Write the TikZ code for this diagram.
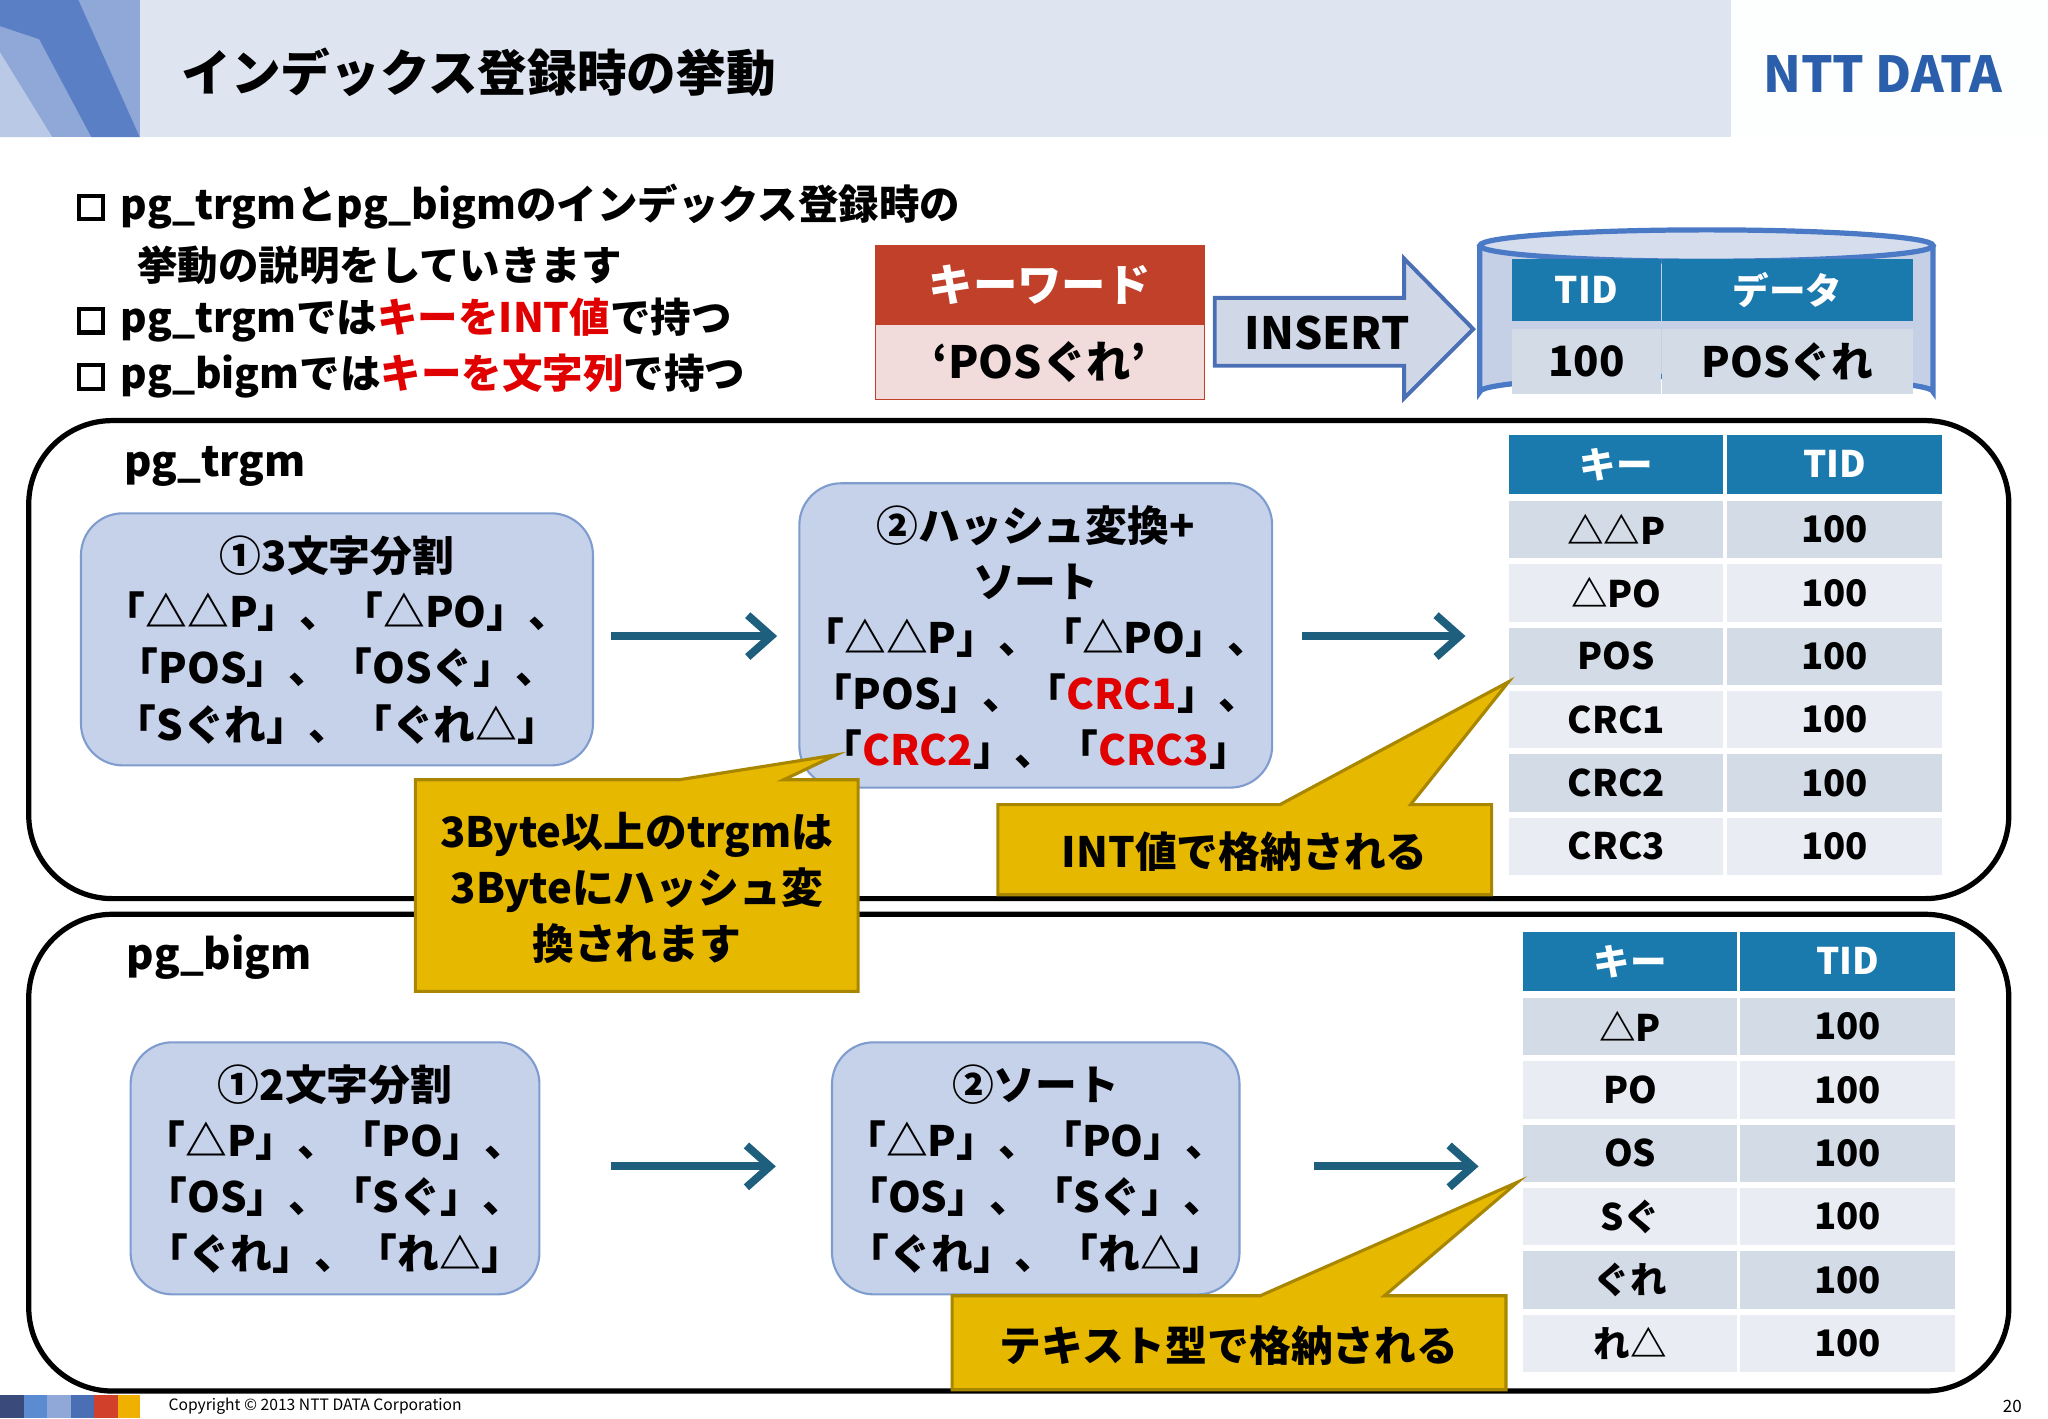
\documentclass[tikz,border=0pt]{standalone}
\usepackage{fontspec}
\setmainfont{Noto Sans CJK JP}
\usetikzlibrary{arrows.meta}
\definecolor{hdr}{HTML}{DFE5F0}
\definecolor{boxf}{HTML}{C6D1EA}
\definecolor{boxs}{HTML}{7F9CCF}
\definecolor{teal}{HTML}{1F5F7E}
\definecolor{th}{HTML}{1A7AAE}
\definecolor{rA}{HTML}{D3DBE6}
\definecolor{rB}{HTML}{E9EDF3}
\definecolor{gold}{HTML}{E6B800}
\definecolor{golds}{HTML}{A88600}
\definecolor{kred}{HTML}{C0402A}
\definecolor{kpink}{HTML}{F2DCDB}
\definecolor{cyl}{HTML}{C5D0E6}
\definecolor{cyls}{HTML}{4A7AC6}
\definecolor{nttb}{HTML}{2B5EAB}
\definecolor{rd}{HTML}{E00000}
\definecolor{dA}{HTML}{8FA8D8}
\definecolor{dB}{HTML}{5B7FC4}
\definecolor{dC}{HTML}{B9C9E6}
\definecolor{dD}{HTML}{3A4A7A}
\definecolor{dE}{HTML}{5B8BD0}
\definecolor{dF}{HTML}{4A6FB5}
\definecolor{dG}{HTML}{D0402A}
\definecolor{dH}{HTML}{F0B000}
\definecolor{insf}{HTML}{D0D8E8}
\newcommand{\txt}[1]{\fontsize{#1}{#1}\selectfont\bfseries}
\newcommand{\bx}{\tikz[baseline=0pt]\draw[line width=1.6pt] (0,0) rectangle (9pt,9pt);}
\tikzset{
 pbox/.style={draw=boxs,fill=boxf,rounded corners=16pt,line width=0.8pt},
 frame/.style={draw=black,line width=2pt,rounded corners=32pt},
 flow/.style={draw=teal,line width=3pt,-{Straight Barb[length=9pt,width=16pt,line width=3pt]}},
 btxt/.style={align=center,font=\fontsize{16}{21.5}\selectfont\bfseries},
 call/.style={fill=gold,draw=golds,line width=1.2pt},
 ctxt/.style={align=center,font=\fontsize{16}{21.5}\selectfont\bfseries},
 thd/.style={fill=th,text=white,minimum width=82pt,minimum height=22.5pt,inner sep=0pt,font=\fontsize{14}{14}\selectfont\bfseries},
 tcA/.style={fill=rA,minimum width=82pt,minimum height=22pt,inner sep=0pt,font=\fontsize{14}{14}\selectfont\bfseries},
 tcB/.style={tcA,fill=rB},
 bul/.style={anchor=west,font=\fontsize{15.5}{15.5}\selectfont\bfseries},
}
\begin{document}
\begin{tikzpicture}[x=0.5pt,y=-0.5pt]
\useasboundingbox (0,0) rectangle (1568,1086);
\fill[white] (0,0) rectangle (1568,1086);
% header
\fill[hdr] (0,0) rectangle (1325,105);
\fill[white!95!hdr] (1325,0) rectangle (1568,105);
\fill[dA] (0,0) rectangle (107,105);
\fill[dB] (0,0) -- (60,0) -- (107,105) -- (70,105) -- (30,30) -- (0,20) -- cycle;
\fill[dC] (0,40) -- (40,105) -- (0,105) -- cycle;
\node[anchor=west] (title) at (132,55) {\txt{19}インデックス登録時の挙動};
\node[anchor=east,text=nttb] (logo) at (1540,57) {\txt{19}NTT DATA};
% bullets
\node[bul] (b1) at (52,158) {\bx\hspace{6pt}pg\_trgmとpg\_bigmのインデックス登録時の};
\node[bul] (b1b) at (98,203) {挙動の説明をしていきます};
\node[bul] (b2) at (52,245) {\bx\hspace{6pt}pg\_trgmでは\textcolor{rd}{キーをINT値}で持つ};
\node[bul] (b3) at (52,288) {\bx\hspace{6pt}pg\_bigmでは\textcolor{rd}{キーを文字列}で持つ};
% keyword
\node[fill=kred,draw=kred,text=white,minimum width=126pt,minimum height=30pt,inner sep=0pt] (kw) at (796,218) {\txt{17}キーワード};
\node[fill=kpink,draw=kred,minimum width=126pt,minimum height=28.5pt,inner sep=0pt,anchor=north] (kwv) at (kw.south) {\txt{17}‘POSぐれ’};
% INSERT arrow
\draw[fill=insf,draw=dF,line width=1.5pt] (930,228) -- (1075,228) -- (1075,198) -- (1128,252) -- (1075,305) -- (1075,280) -- (930,280) -- cycle;
\node (ins) at (1016,255) {\txt{17}INSERT};
% cylinder
\draw[fill=cyl,draw=cyls,line width=2pt] (1133,188) -- (1133,300) arc[start angle=180,end angle=360,x radius=173.5,y radius=12] -- (1480,188);
\draw[fill=cyl!70!white,draw=cyls,line width=2pt] (1306.5,188) ellipse[x radius=173.5,y radius=12];
\node[thd,minimum width=57pt,minimum height=24pt] (c1) at (1214.5,222) {TID};
\node[thd,minimum width=96pt,minimum height=24pt] (c2) at (1368.5,222) {データ};
\node[tcA,minimum width=57pt,minimum height=25pt,font=\fontsize{16}{16}\selectfont\bfseries] (c3) at (1214.5,277) {100};
\node[tcA,minimum width=96pt,minimum height=25pt,font=\fontsize{16}{16}\selectfont\bfseries] (c4) at (1368.5,277) {POSぐれ};
% frames
\draw[frame] (22,322) rectangle (1538,688);
\draw[frame] (22,700) rectangle (1538,1065);
\node[anchor=west] (l1) at (88,357) {\txt{16}pg\_trgm};
\node[anchor=west] (l2) at (90,733) {\txt{16}pg\_bigm};
% trgm boxes
\draw[pbox] (62,393) rectangle (454,586);
\node[btxt] (t1) at (258,490) {①3文字分割\\「△△P」、「△PO」、\\「POS」、「OSぐ」、\\「Sぐれ」、「ぐれ△」};
\draw[pbox] (612,370) rectangle (974,603);
\node[btxt] (t2) at (793,488) {②ハッシュ変換+\\ソート\\「△△P」、「△PO」、\\「POS」、「\textcolor{rd}{CRC1}」、\\「\textcolor{rd}{CRC2}」、「\textcolor{rd}{CRC3}」};
\coordinate (a1s) at (468,487); \coordinate (a1e) at (595,487);
\coordinate (a2s) at (997,487); \coordinate (a2e) at (1122,487);
\draw[flow] (a1s) -- (a1e);
\draw[flow] (a2s) -- (a2e);
% trgm table
\node[thd] (h1) at (1237.5,355.5) {キー};
\node[thd] (h2) at (1404.5,355.5) {TID};
\foreach \k [count=\i] in {△△P,△PO,POS,CRC1,CRC2,CRC3}{
  \pgfmathsetmacro\yy{405.5+(\i-1)*48.5}
  \pgfmathtruncatemacro\odd{mod(\i,2)}
  \ifnum\odd=1 \def\st{tcA}\else\def\st{tcB}\fi
  \node[\st] (tk\i) at (1237.5,\yy) {\k};
  \node[\st] (tv\i) at (1404.5,\yy) {100};
}
% bigm boxes
\draw[pbox] (100,798) rectangle (413,991);
\node[btxt] (b31) at (256.5,895) {①2文字分割\\「△P」、「PO」、\\「OS」、「Sぐ」、\\「ぐれ」、「れ△」};
\draw[pbox] (637,798) rectangle (949,991);
\node[btxt] (b41) at (793,895) {②ソート\\「△P」、「PO」、\\「OS」、「Sぐ」、\\「ぐれ」、「れ△」};
\coordinate (a3s) at (468,893); \coordinate (a3e) at (594,893);
\coordinate (a4s) at (1006,893); \coordinate (a4e) at (1132,893);
\draw[flow] (a3s) -- (a3e);
\draw[flow] (a4s) -- (a4e);
% bigm table
\node[thd] (g1) at (1248,736) {キー};
\node[thd] (g2) at (1414.5,736) {TID};
\foreach \k [count=\i] in {△P,PO,OS,Sぐ,ぐれ,れ△}{
  \pgfmathsetmacro\yy{786+(\i-1)*48.5}
  \pgfmathtruncatemacro\odd{mod(\i,2)}
  \ifnum\odd=1 \def\st{tcA}\else\def\st{tcB}\fi
  \node[\st] (gk\i) at (1248,\yy) {\k};
  \node[\st] (gv\i) at (1414.5,\yy) {100};
}
% callouts
\draw[call] (318,597) -- (520,597) -- (640,578) -- (600,597) -- (657,597) -- (657,759) -- (318,759) -- cycle;
\node[ctxt] (co1) at (487.5,680) {3Byte以上のtrgmは\\3Byteにハッシュ変\\換されます};
\draw[call] (764,616) -- (980,616) -- (1155,522) -- (1080,616) -- (1142,616) -- (1142,685) -- (764,685) -- cycle;
\node[ctxt] (co2) at (953,652) {INT値で格納される};
\draw[call] (729,992) -- (965,992) -- (1162,905) -- (1060,992) -- (1153,992) -- (1153,1064) -- (729,1064) -- cycle;
\node[ctxt] (co3) at (941,1030) {テキスト型で格納される};
% footer
\fill[dD] (0,1068) rectangle (18,1086);
\fill[dE] (18,1068) rectangle (36,1086);
\fill[dA] (36,1068) rectangle (54,1086);
\fill[dF] (54,1068) rectangle (72,1086);
\fill[dG] (72,1068) rectangle (90,1086);
\fill[dH] (90,1068) rectangle (107,1086);
\node[anchor=west,font=\fontsize{6}{6}\selectfont] (cp) at (122,1077) {Copyright © 2013 NTT DATA Corporation};
\node[anchor=east,font=\fontsize{6.5}{6.5}\selectfont] (pg) at (1555,1077) {20};
\end{tikzpicture}
\end{document}
